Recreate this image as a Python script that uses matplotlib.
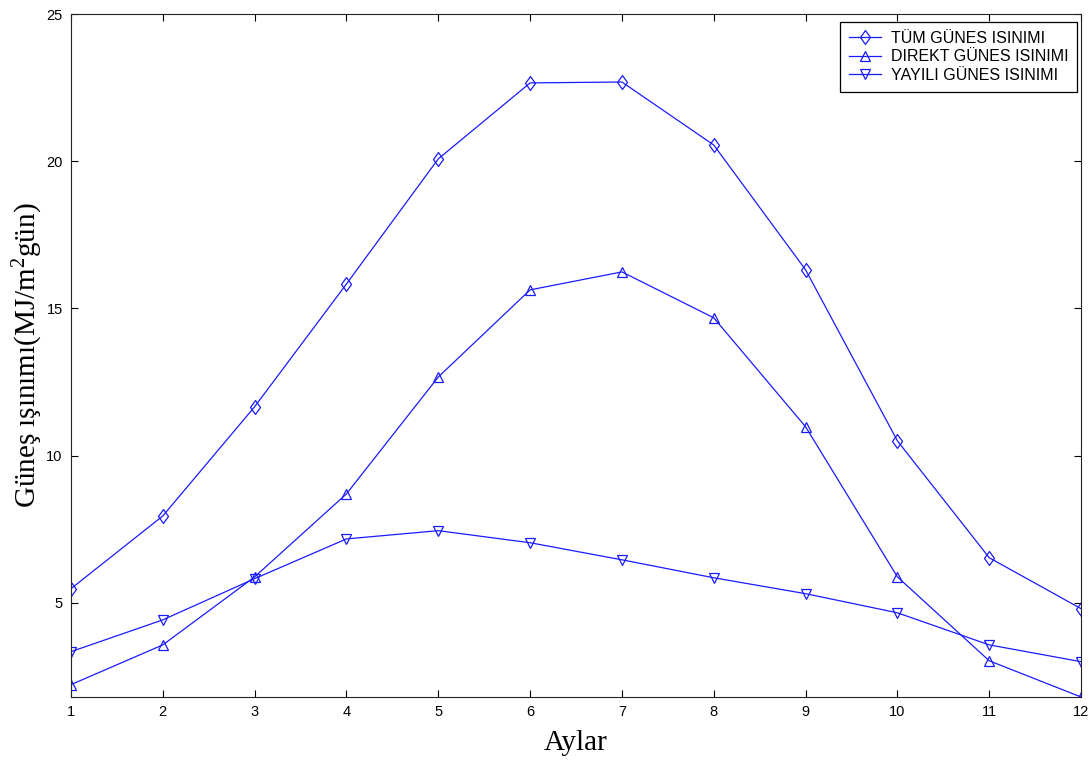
import matplotlib
matplotlib.use("Agg")
import matplotlib.pyplot as plt
from matplotlib.path import Path

plt.rcParams["mathtext.fontset"] = "custom"
plt.rcParams["mathtext.rm"] = "Liberation Serif"
plt.rcParams["mathtext.it"] = "Liberation Serif:italic"

# aylık ortalama günlük güneş ışınımı (MJ/m2 gün)
aylar = list(range(1, 13))
tum_gunes = [5.48, 7.95, 11.66, 15.83, 20.08, 22.66, 22.69, 20.55, 16.31, 10.50, 6.53, 4.80]
direkt_gunes = [2.22, 3.57, 5.88, 8.70, 12.67, 15.63, 16.24, 14.68, 10.98, 5.88, 3.03, 1.80]
yayili_gunes = [3.34, 4.42, 5.82, 7.17, 7.45, 7.04, 6.46, 5.85, 5.31, 4.66, 3.57, 3.00]

etiketler = ["TÜM GÜNES ISINIMI", "DIREKT GÜNES ISINIMI", "YAYILI GÜNES ISINIMI"]
yticks = [5, 10, 15, 20, 25]

mavi = "#1a1aff"

# matlab tarzı eşkenar dörtgen işaret
elmas = Path([(0, 1), (0.72, 0), (0, -1), (-0.72, 0), (0, 1)],
             [Path.MOVETO, Path.LINETO, Path.LINETO, Path.LINETO, Path.CLOSEPOLY])

fig = plt.figure(figsize=(10.92, 7.70), dpi=100, facecolor="white")
ax = fig.add_axes([0.065, 0.0948, 0.925, 0.887])

stil = dict(color=mavi, linewidth=0.9, markerfacecolor="none",
            markeredgecolor=mavi, markeredgewidth=0.9)
ax.plot(aylar, tum_gunes, marker=elmas, markersize=10, label=etiketler[0], **stil)
ax.plot(aylar, direkt_gunes, marker="^", markersize=7, label=etiketler[1], **stil)
ax.plot(aylar, yayili_gunes, marker="v", markersize=7, label=etiketler[2], **stil)

ax.set_xlim(1, 12)
ax.set_ylim(1.8, 25)
ax.set_xticks(aylar)
ax.set_yticks(yticks)
ax.tick_params(direction="in", top=True, right=True, length=5, width=0.8,
               labelsize=10.5, pad=6)
for lbl in ax.get_xticklabels() + ax.get_yticklabels():
    lbl.set_family("Liberation Sans")
for s in ax.spines.values():
    s.set_linewidth(0.8)
    s.set_color("#222222")

ax.set_xlabel("Aylar", family="Liberation Serif", fontsize=21, labelpad=8)
ax.set_ylabel("Güneş ışınımı(MJ/m$^2$gün)", family="Liberation Serif",
              fontsize=21, labelpad=1)

leg = ax.legend(loc="upper right", bbox_to_anchor=(1077 / 1092, 1 - 22 / 770),
                bbox_transform=fig.transFigure, borderaxespad=0,
                prop={"family": "Liberation Sans", "size": 11.5},
                handlelength=2.0, handletextpad=0.6, labelspacing=0.22,
                borderpad=0.55, fancybox=False, framealpha=1)
leg.get_frame().set_edgecolor("black")
leg.get_frame().set_linewidth(0.9)

fig.savefig("out.png", dpi=100, facecolor="white")
